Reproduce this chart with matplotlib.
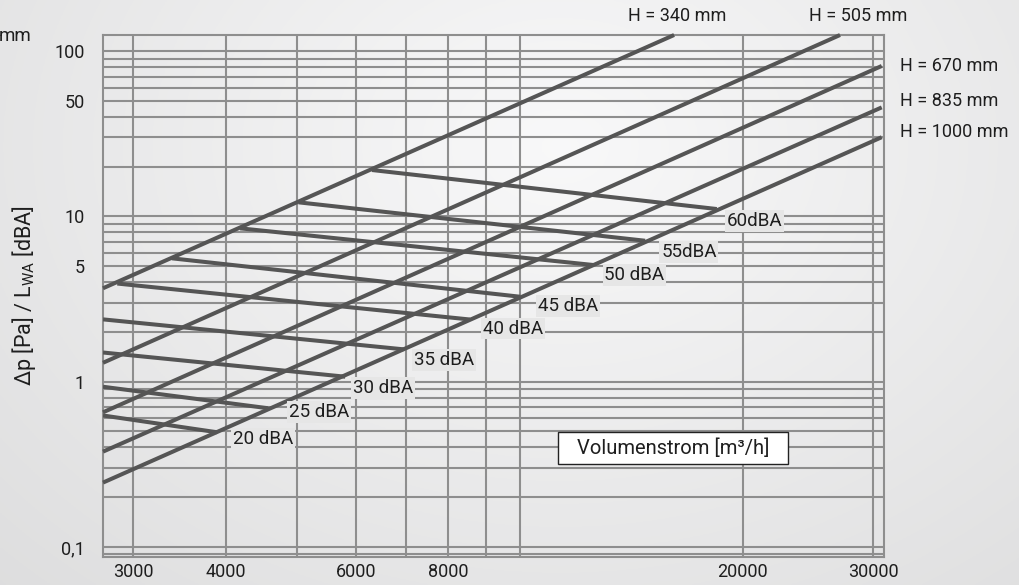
import numpy as np
import matplotlib.pyplot as plt
from matplotlib.patches import Rectangle
from matplotlib.ticker import FixedLocator, FixedFormatter, LogLocator, NullFormatter

plt.rcParams['font.family'] = ['Roboto', 'DejaVu Sans']

# system curves (flow in m3/h, pressure drop in Pa at both ends of each line)
h_labels = ['H = 340 mm', 'H = 505 mm', 'H = 670 mm', 'H = 835 mm', 'H = 1000 mm']
h_v_start = [2730, 2730, 2730, 2730, 2730]
h_p_start = [3.67, 1.30, 0.652, 0.377, 0.245]
h_v_end = [16150, 27070, 30820, 30820, 30820]
h_p_end = [125, 125, 81.2, 45.6, 30.1]

# sound power lines
db_labels = ['20 dBA', '25 dBA', '30 dBA', '35 dBA', '40 dBA', '45 dBA', '50 dBA', '55dBA', '60dBA']
db_v_start = [2730, 2730, 2730, 2730, 2854, 3384, 4184, 5018, 6306]
db_p_start = [0.624, 0.931, 1.50, 2.38, 3.92, 5.57, 8.46, 12.15, 19.06]
db_v_end = [3892, 4566, 5802, 6957, 8560, 10000, 12566, 14757, 18446]
db_p_end = [0.494, 0.690, 1.071, 1.568, 2.375, 3.263, 5.075, 7.117, 11.07]

x_ticks = [3000, 4000, 6000, 8000, 20000, 30000]
x_tick_labels = ['3000', '4000', '6000', '8000', '20000', '30000']
y_ticks = [0.1, 1, 5, 10, 50, 100]
y_tick_labels = ['0,1', '1', '5', '10', '50', '100']

W, H = 1019, 585
fig = plt.figure(figsize=(W / 100, H / 100), dpi=100)

# soft grey background gradient
bg = fig.add_axes([0, 0, 1, 1], zorder=-1)
yy, xx = np.mgrid[0:1:300j, 0:1:500j]
d = np.sqrt(((xx - 0.55) / 0.75) ** 2 + ((yy - 0.25) / 1.0) ** 2)
val = np.clip(0.975 - 0.10 * d, 0, 1)
bg.imshow(np.dstack([val, val, val * 1.003]).clip(0, 1), aspect='auto', extent=[0, 1, 1, 0])
bg.axis('off')

ax = fig.add_axes([103 / W, 1 - 557 / H, (884 - 103) / W, (557 - 35) / H])
ax.patch.set_alpha(0)
ax.set_xscale('log')
ax.set_yscale('log')
ax.set_xlim(2730, 31040)
ax.set_ylim(0.0869, 125)

grid_col = '#8e8e8e'
line_col = '#555555'
txt_col = '#1e1e1e'

ax.xaxis.set_major_locator(FixedLocator(x_ticks))
ax.xaxis.set_major_formatter(FixedFormatter(x_tick_labels))
ax.xaxis.set_minor_locator(LogLocator(base=10, subs=np.arange(1, 10), numticks=50))
ax.xaxis.set_minor_formatter(NullFormatter())
ax.yaxis.set_major_locator(FixedLocator(y_ticks))
ax.yaxis.set_major_formatter(FixedFormatter(y_tick_labels))
ax.yaxis.set_minor_locator(LogLocator(base=10, subs=np.arange(1, 10), numticks=50))
ax.yaxis.set_minor_formatter(NullFormatter())
ax.grid(which='both', color=grid_col, lw=1.5, zorder=1)
ax.set_axisbelow(True)
ax.tick_params(which='both', length=0, labelsize=13, colors=txt_col)
ax.tick_params(axis='x', pad=4)
ax.tick_params(axis='y', pad=13)
for s in ax.spines.values():
    s.set_color(grid_col)
    s.set_linewidth(1.5)

for i in range(len(h_labels)):
    ax.plot([h_v_start[i], h_v_end[i]], [h_p_start[i], h_p_end[i]],
            color=line_col, lw=2.9, solid_capstyle='butt', zorder=3, clip_on=False)

for i in range(len(db_labels)):
    ax.plot([db_v_start[i], db_v_end[i]], [db_p_start[i], db_p_end[i]],
            color=line_col, lw=2.9, solid_capstyle='butt', zorder=3)

# label offsets in pixels (right, up) from the end of each line
db_offsets = [(16, -7), (21, -4), (8, -11), (10, -11), (13, -9), (18, -9), (11, -10), (16, -11), (10, -12)]
for i, lab in enumerate(db_labels):
    ox, oy = db_offsets[i]
    ax.annotate(lab, (db_v_end[i], db_p_end[i]), xytext=(ox * 0.72, oy * 0.72),
                textcoords='offset points', ha='left', va='center', fontsize=13.5,
                color=txt_col, zorder=5,
                bbox=dict(boxstyle='square,pad=0.1', fc='#e6e6e6', ec='none'))

h_offsets = [(3, 19, 'center'), (18, 19, 'center'), (18, 0, 'left'), (18, 6, 'left'), (18, 5, 'left')]
for i, lab in enumerate(h_labels):
    ox, oy, ha = h_offsets[i]
    ax.annotate(lab, (h_v_end[i], h_p_end[i]), xytext=(ox * 0.72, oy * 0.72),
                textcoords='offset points', ha=ha, va='center', fontsize=13,
                color=txt_col, annotation_clip=False)

fig.text(24 / W, 1 - 296 / H, 'Δp [Pa] / L$_\\mathregular{WA}$ [dBA]', rotation=90,
         ha='center', va='center', fontsize=15.5, color=txt_col)
fig.text(31 / W, 1 - 36 / H, 'mm', ha='right', va='center', fontsize=13.5, color=txt_col)

fig.patches.append(Rectangle((558 / W, 1 - 464 / H), 230 / W, 32 / H, transform=fig.transFigure,
                             fc='white', ec='#222222', lw=1.0, zorder=5))
fig.text(673 / W, 1 - 448 / H, 'Volumenstrom [m³/h]', ha='center', va='center',
         fontsize=14.5, color=txt_col, zorder=6)

fig.savefig('out.png', dpi=100)
